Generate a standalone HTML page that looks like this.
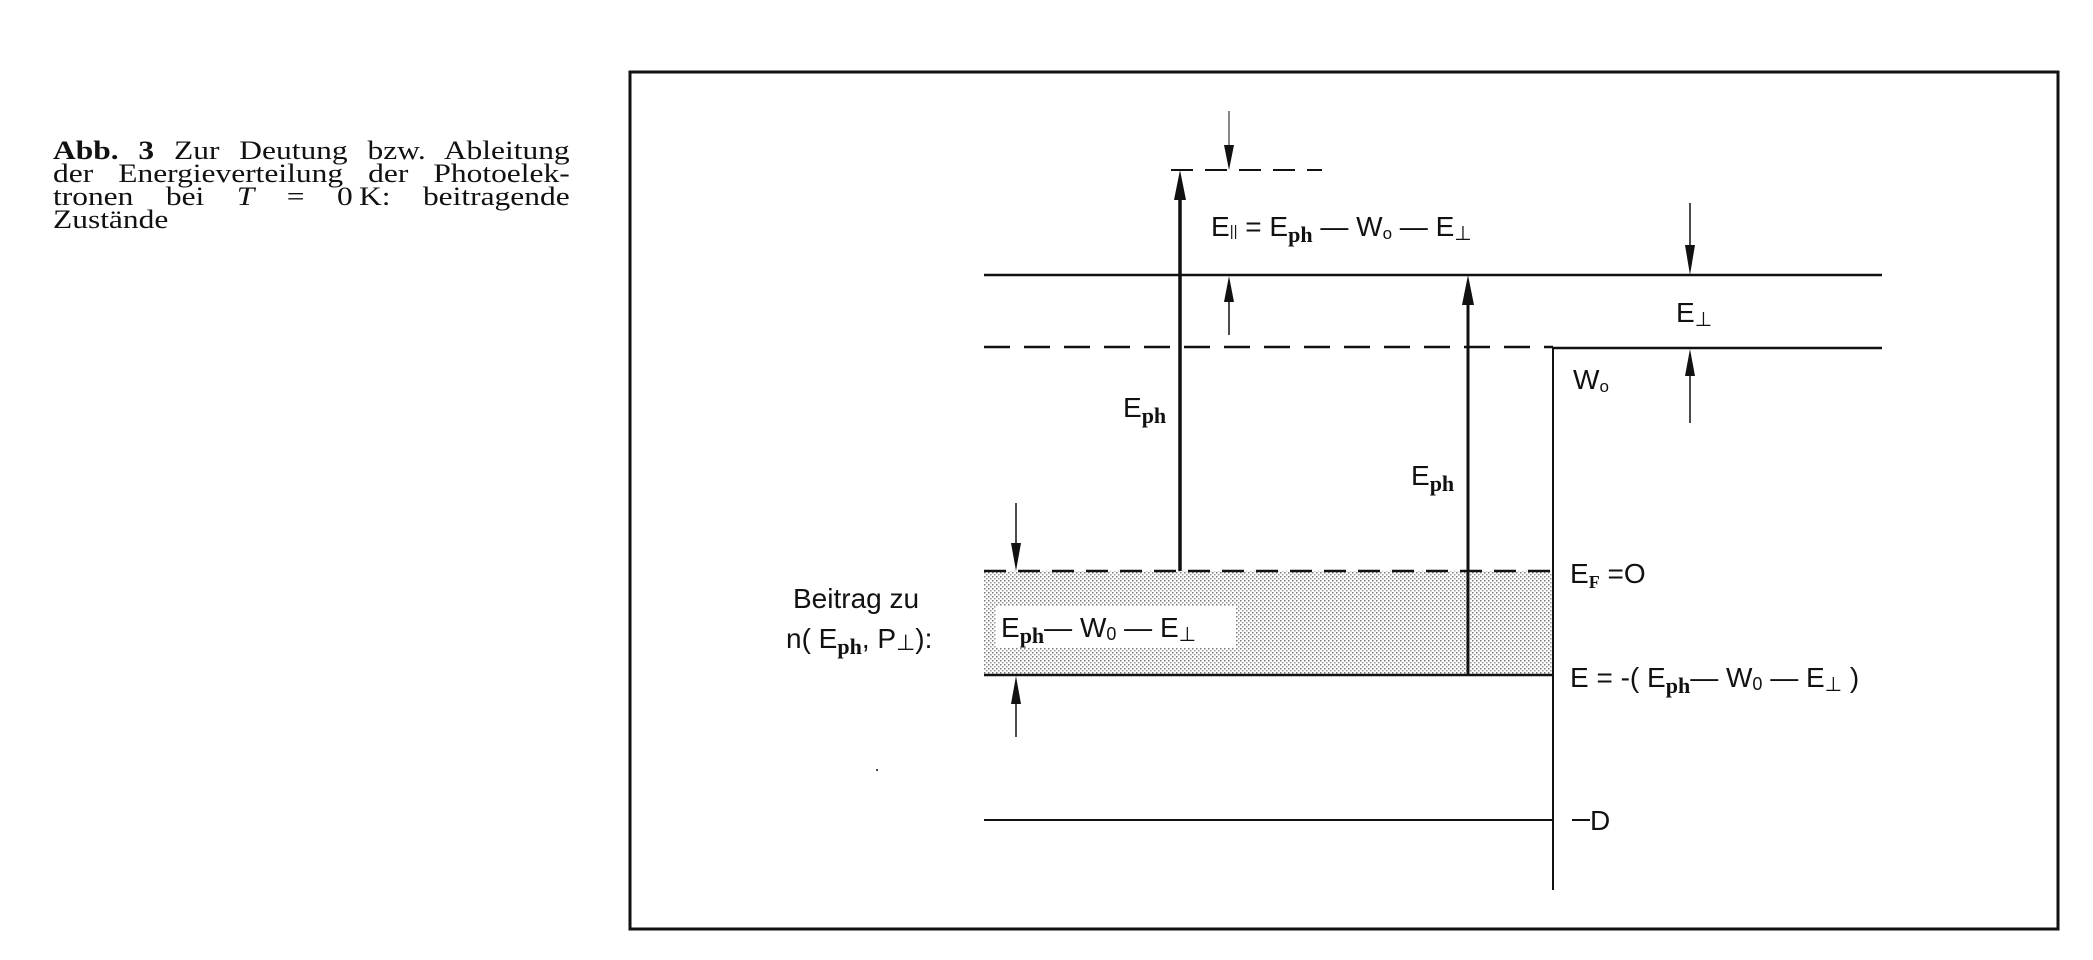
<!DOCTYPE html>
<html><head><meta charset="utf-8"><style>
html,body{margin:0;padding:0;background:#fff;}
svg{display:block;}
.s{font-family:"Liberation Sans",sans-serif;fill:#111;}
.r{font-family:"Liberation Serif",serif;fill:#111;}
#cap{position:absolute;left:53px;top:139px;width:427px;transform:scaleX(1.21);transform-origin:0 0;font-family:"Liberation Serif",serif;font-size:26px;line-height:23px;color:#111;}
#cap div{text-align:justify;text-align-last:justify;white-space:nowrap;}
#cap div.l{text-align-last:left;}
</style></head><body>
<div id="cap"><div><b>Abb. 3</b> Zur Deutung bzw. Ableitung</div><div>der Energieverteilung der Photoelek-</div><div>tronen bei <i>T</i> = 0&#8201;K: beitragende</div><div class="l">Zustände</div></div>
<svg width="2093" height="960" viewBox="0 0 2093 960" xmlns="http://www.w3.org/2000/svg">
<defs>
<pattern id="dots" width="4" height="4" patternUnits="userSpaceOnUse">
<rect width="4" height="4" fill="#fff"/><rect x="0" y="0" width="1.5" height="1.5" fill="#777"/><rect x="2" y="2" width="1.5" height="1.5" fill="#999"/>
</pattern>
</defs>
<rect x="630" y="72" width="1428" height="857" fill="none" stroke="#111" stroke-width="3"/>
<rect x="984" y="571" width="569" height="104" fill="url(#dots)"/>
<rect x="996" y="606" width="240" height="42" fill="#fff"/>
<g stroke="#111" fill="none">
<line x1="1171" y1="170" x2="1322" y2="170" stroke-width="2" stroke-dasharray="22,12"/>
<line x1="984" y1="275" x2="1882" y2="275" stroke-width="2.5"/>
<line x1="984" y1="347" x2="1553" y2="347" stroke-width="2.5" stroke-dasharray="26,14"/>
<line x1="1553" y1="348" x2="1882" y2="348" stroke-width="2.5"/>
<line x1="1553" y1="348" x2="1553" y2="890" stroke-width="2"/>
<line x1="984" y1="571" x2="1553" y2="571" stroke-width="2.5" stroke-dasharray="22,12"/>
<line x1="984" y1="675" x2="1553" y2="675" stroke-width="2.5"/>
<line x1="984" y1="820" x2="1553" y2="820" stroke-width="2"/>
<line x1="1572" y1="820" x2="1590" y2="820" stroke-width="2"/>
<line x1="1180" y1="571" x2="1180" y2="195" stroke-width="3.5"/>
<line x1="1468" y1="675" x2="1468" y2="300" stroke-width="3"/>
<line x1="1229" y1="111" x2="1229" y2="150"/>
<line x1="1229" y1="298" x2="1229" y2="335" stroke-width="1.5"/>
<line x1="1690" y1="203" x2="1690" y2="250" stroke-width="1.5"/>
<line x1="1690" y1="372" x2="1690" y2="423" stroke-width="1.5"/>
<line x1="1016" y1="503" x2="1016" y2="548" stroke-width="1.5"/>
<line x1="1016" y1="700" x2="1016" y2="737" stroke-width="1.5"/>
</g>
<g fill="#111">
<polygon points="1174,200 1186,200 1180,170"/>
<polygon points="1462,305 1474,305 1468,275"/>
<polygon points="1224,145 1234,145 1229,170"/>
<polygon points="1224,302 1234,302 1229,276"/>
<polygon points="1685,245 1695,245 1690,275"/>
<polygon points="1685,376 1695,376 1690,349"/>
<polygon points="1011,543 1021,543 1016,571"/>
<polygon points="1011,704 1021,704 1016,676"/>
<circle cx="877" cy="770" r="1"/>
</g>
<g class="s" font-size="28">
<text x="1211" y="236">E<tspan font-size="15">||</tspan> = E<tspan class="r" font-size="22" font-weight="bold" dy="6">ph</tspan><tspan dy="-6"> — W</tspan><tspan font-size="17" dy="3">o</tspan><tspan dy="-3"> — E</tspan><tspan font-size="20" dy="4">⊥</tspan></text>
<text x="1676" y="322">E<tspan font-size="20" dy="4">⊥</tspan></text>
<text x="1573" y="389">W<tspan font-size="17" dy="3">o</tspan></text>
<text x="1123" y="417">E<tspan class="r" font-size="22" font-weight="bold" dy="6">ph</tspan></text>
<text x="1411" y="485">E<tspan class="r" font-size="22" font-weight="bold" dy="6">ph</tspan></text>
<text x="1570" y="583">E<tspan class="r" font-size="18" font-weight="bold" dy="5">F</tspan><tspan dy="-5"> =O</tspan></text>
<text x="1570" y="687">E  = -( E<tspan class="r" font-size="22" font-weight="bold" dy="6">ph</tspan><tspan dy="-6">— W</tspan><tspan font-size="18" dy="3">0</tspan><tspan dy="-3"> — E</tspan><tspan font-size="20" dy="4">⊥</tspan><tspan dy="-4"> )</tspan></text>
<text x="1590" y="830">D</text>
<text x="793" y="608">Beitrag zu</text>
<text x="786" y="648">n( E<tspan class="r" font-size="22" font-weight="bold" dy="6">ph</tspan><tspan dy="-6">, P</tspan><tspan font-size="22" dy="2">⊥</tspan><tspan dy="-2">):</tspan></text>
<text x="1001" y="637">E<tspan class="r" font-size="22" font-weight="bold" dy="6">ph</tspan><tspan dy="-6">— W</tspan><tspan font-size="18" dy="3">0</tspan><tspan dy="-3"> — E</tspan><tspan font-size="20" dy="4">⊥</tspan></text>
</g>
</svg>
</body></html>
